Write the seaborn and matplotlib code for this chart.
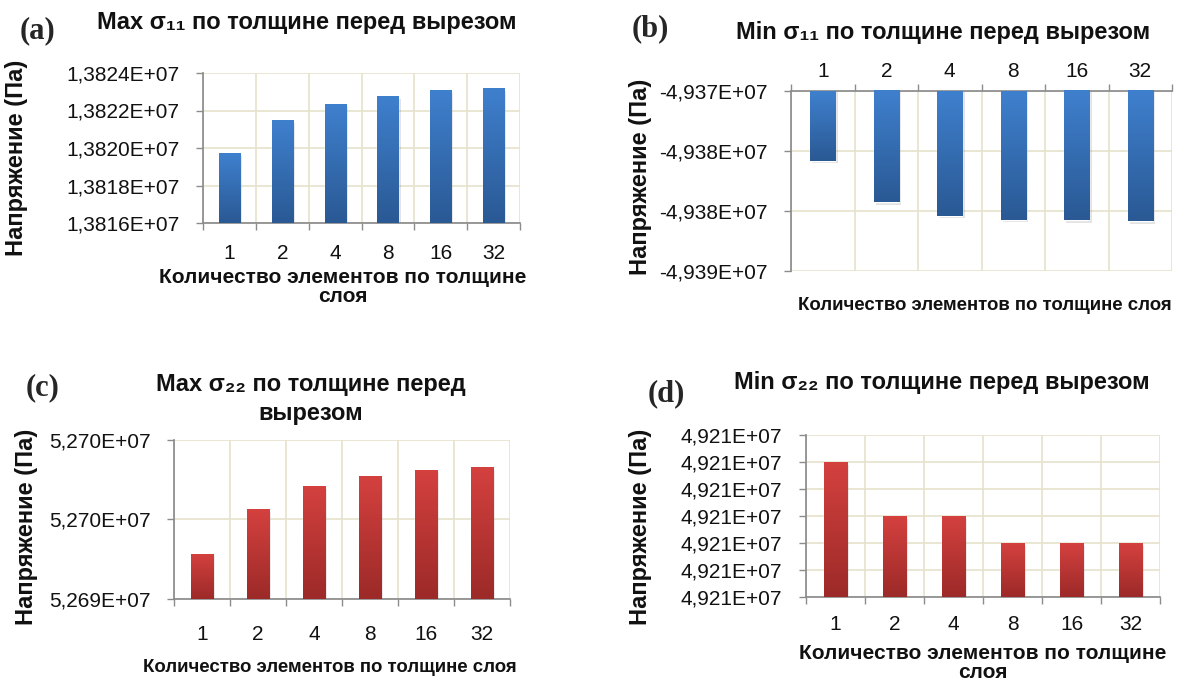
import matplotlib
matplotlib.use('Agg')
import matplotlib.pyplot as plt
import matplotlib.patheffects as pe
import numpy as np
import seaborn as sns
from decimal import Decimal, ROUND_HALF_UP
from matplotlib.colors import LinearSegmentedColormap

sns.set_theme(style='white')
plt.rcParams['font.family'] = ['Liberation Sans', 'DejaVu Sans']

W, H = 1182, 681

# Data
elements = ['1', '2', '4', '8', '16', '32']
max_s11 = [13819710, 13821480, 13822370, 13822780, 13823070, 13823210]
min_s11 = [-49375800, -49379260, -49380380, -49380710, -49380790, -49380870]
max_s22 = [52692850, 52695630, 52697100, 52697740, 52698140, 52698300]
min_s22 = [49210200, 49210000, 49210000, 49209900, 49209900, 49209900]

ticks_a = [13816000, 13818000, 13820000, 13822000, 13824000]
ticks_b = [-49385000, -49380000, -49375000, -49370000]
ticks_c = [52690000, 52695000, 52700000]
ticks_d = [49209700, 49209800, 49209900, 49210000, 49210100, 49210200, 49210300]

titles = ['Max σ₁₁ по толщине перед вырезом',
          'Min σ₁₁ по толщине перед вырезом',
          'Max σ₂₂ по толщине перед\nвырезом',
          'Min σ₂₂ по толщине перед вырезом']
letters = ['(a)', '(b)', '(c)', '(d)']
ylab = 'Напряжение (Па)'
xlab = 'Количество элементов по толщине слоя'
xlab_wrap = 'Количество элементов по толщине\nслоя'

BLUE = ('#3f80ce', '#2a5994')
RED = ('#d4413f', '#9c2a28')
GRID = '#e6e2cc'
SPINE = '#8c8c8c'


def rect(l, t, r, b):
    return [l / W, 1 - b / H, (r - l) / W, (b - t) / H]


def at(x, y):
    return x / W, 1 - y / H


def e7(v, nd):
    q = Decimal(repr(v / 1e7)).quantize(Decimal(1).scaleb(-nd), rounding=ROUND_HALF_UP)
    return str(q).replace('.', ',') + 'E+07'


def draw(ax, values, ticks, nd, colors, xpad, top_axis=False):
    sns.barplot(x=elements, y=values, order=elements, ax=ax, width=0.4,
                color=colors[0], saturation=1, errorbar=None, zorder=2)
    ylo, yhi = ticks[0], ticks[-1]
    cmap = LinearSegmentedColormap.from_list('g', [colors[1], colors[0]])
    grad = np.linspace(0, 1, 256).reshape(-1, 1)
    for p in ax.patches:
        x0, w = p.get_x(), p.get_width()
        lo, hi = sorted([p.get_y(), p.get_y() + p.get_height()])
        lo, hi = max(lo, ylo), min(hi, yhi)
        im = ax.imshow(grad, cmap=cmap, origin='lower', aspect='auto',
                       extent=[x0, x0 + w, lo, hi], zorder=2.6)
        im.set_clip_path(p)
        p.set_path_effects([pe.withSimplePatchShadow(offset=(1.5, -2), shadow_rgbFace='k', alpha=0.12)])
    ax.set_xlim(-0.5, 5.5)
    ax.set_ylim(ylo, yhi)
    ax.set_yticks(ticks)
    ax.set_yticklabels([e7(t, nd) for t in ticks])
    ax.set_xticks(range(len(elements)))
    ax.set_xticklabels(elements)
    ax.set_xticks(np.arange(-0.5, 6, 1), minor=True)
    ax.set_xlabel('')
    ax.set_ylabel('')
    ax.grid(True, which='minor', axis='x', color=GRID, lw=1.2, zorder=0)
    ax.grid(True, which='major', axis='y', color=GRID, lw=1.2, zorder=0)
    ax.set_axisbelow(True)
    for s in ax.spines.values():
        s.set_visible(False)
    ax.spines['left'].set_visible(True)
    ax.spines['left'].set_color(SPINE)
    side = 'top' if top_axis else 'bottom'
    ax.spines[side].set_visible(True)
    ax.spines[side].set_color(SPINE)
    ax.tick_params(axis='y', which='major', left=True, length=5, width=1, color=SPINE,
                   pad=12, labelsize=15, labelcolor='#111111')
    ax.tick_params(axis='x', which='major', length=0, pad=xpad, labelsize=15, labelcolor='#111111')
    ax.tick_params(axis='x', which='minor', length=5, width=1, color=SPINE)
    if top_axis:
        ax.tick_params(axis='x', which='both', top=True, bottom=False, labeltop=True, labelbottom=False)
    else:
        ax.tick_params(axis='x', which='both', top=False, bottom=True)


fig = plt.figure(figsize=(W / 100, H / 100), dpi=100)

ax_a = fig.add_axes(rect(203, 73, 520, 223))
ax_b = fig.add_axes(rect(791, 91, 1172, 271))
ax_c = fig.add_axes(rect(174, 440, 510, 599))
ax_d = fig.add_axes(rect(806, 435, 1160, 597))

draw(ax_a, max_s11, ticks_a, 4, BLUE, 15)
draw(ax_b, min_s11, ticks_b, 3, BLUE, 7, top_axis=True)
draw(ax_c, max_s22, ticks_c, 3, RED, 19)
draw(ax_d, min_s22, ticks_d, 3, RED, 13)

bold = dict(fontweight='bold', color='#111111', ha='center', va='center')
serif = dict(family='Liberation Serif', fontweight='bold', fontsize=22, ha='center', va='center')

# panel letters
for s, (x, y) in zip(letters, [(38, 31), (650, 29), (43, 388), (666, 394)]):
    fig.text(*at(x, y), s, **serif)

# titles
fig.text(*at(307, 22), titles[0], fontsize=17, **bold)
fig.text(*at(943, 32), titles[1], fontsize=17, **bold)
fig.text(*at(311, 399), titles[2], fontsize=17, linespacing=1.35, **bold)
fig.text(*at(942, 383), titles[3], fontsize=17, **bold)

# y labels
for x, y in [(17, 158), (640, 177), (27, 527), (640, 527)]:
    fig.text(*at(x, y), ylab, fontsize=17, rotation=90, **bold)

# x labels
fig.text(*at(343, 287), xlab_wrap, fontsize=15, linespacing=1.05, **bold)
fig.text(*at(985, 306), xlab, fontsize=13.4, **bold)
fig.text(*at(330, 667), xlab, fontsize=13.4, **bold)
fig.text(*at(983, 663), xlab_wrap, fontsize=15, linespacing=1.05, **bold)

fig.savefig('out.png', dpi=100, facecolor='white')
